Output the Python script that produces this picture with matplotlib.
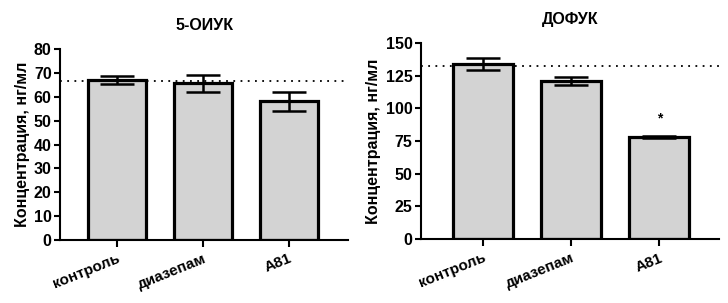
import matplotlib.pyplot as plt
import numpy as np

plt.rcParams['font.family'] = ['Liberation Sans', 'DejaVu Sans']
plt.rcParams['font.weight'] = 'bold'

groups = ['контроль', 'диазепам', 'A81']

# 5-ОИУК
oiuk_mean = [67.0, 65.6, 58.2]
oiuk_err = [1.8, 3.7, 4.0]
oiuk_ref = 66.6

# ДОФУК
dofuk_mean = [134.0, 121.0, 78.0]
dofuk_err = [4.5, 3.0, 1.0]
dofuk_ref = 132.8
dofuk_star = [None, None, 92.0]


def draw_panel(ax, means, errs, ref, title, ymax, yticks, xlim, stars=None):
    x = np.arange(len(groups))
    ax.axhline(ref, color='black', linestyle=(0, (1, 3)), linewidth=1.3, zorder=1)
    ax.bar(x, means, width=0.68, color='#d3d3d3', edgecolor='black',
           linewidth=2.3, zorder=2)
    ax.errorbar(x, means, yerr=errs, fmt='none', ecolor='black',
                elinewidth=1.8, capsize=12, capthick=1.8, zorder=3)
    if stars:
        for xi, s in zip(x, stars):
            if s is not None:
                ax.text(xi, s, '*', ha='center', va='center', fontsize=10)
    ax.set_xlim(*xlim)
    ax.set_ylim(0, ymax)
    ax.set_yticks(yticks)
    ax.set_xticks(x)
    ax.set_xticklabels(groups, rotation=22, ha='right', rotation_mode='anchor',
                       fontsize=11, fontweight='bold')
    ax.tick_params(axis='y', labelsize=11.5, width=1.5, length=4, pad=2)
    ax.tick_params(axis='x', width=1.5, length=5)
    for lbl in ax.get_yticklabels():
        lbl.set_fontweight('bold')
    ax.spines['top'].set_visible(False)
    ax.spines['right'].set_visible(False)
    ax.spines['left'].set_linewidth(1.5)
    ax.spines['bottom'].set_linewidth(1.5)
    ax.set_ylabel('Концентрация, нг/мл', fontsize=11.5, fontweight='bold', labelpad=3)
    ax.set_title(title, fontsize=11.5, fontweight='bold', pad=14)


fig = plt.figure(figsize=(7.28, 3.03), dpi=100)
ax1 = fig.add_axes([0.0824, 0.208, 0.396, 0.630])
ax2 = fig.add_axes([0.578, 0.211, 0.410, 0.647])

draw_panel(ax1, oiuk_mean, oiuk_err, oiuk_ref, '5-ОИУК', 80,
           range(0, 81, 10), (-0.66, 2.69))
draw_panel(ax2, dofuk_mean, dofuk_err, dofuk_ref, 'ДОФУК', 150,
           range(0, 151, 25), (-0.70, 2.68), stars=dofuk_star)

fig.savefig('out.png', dpi=100)
